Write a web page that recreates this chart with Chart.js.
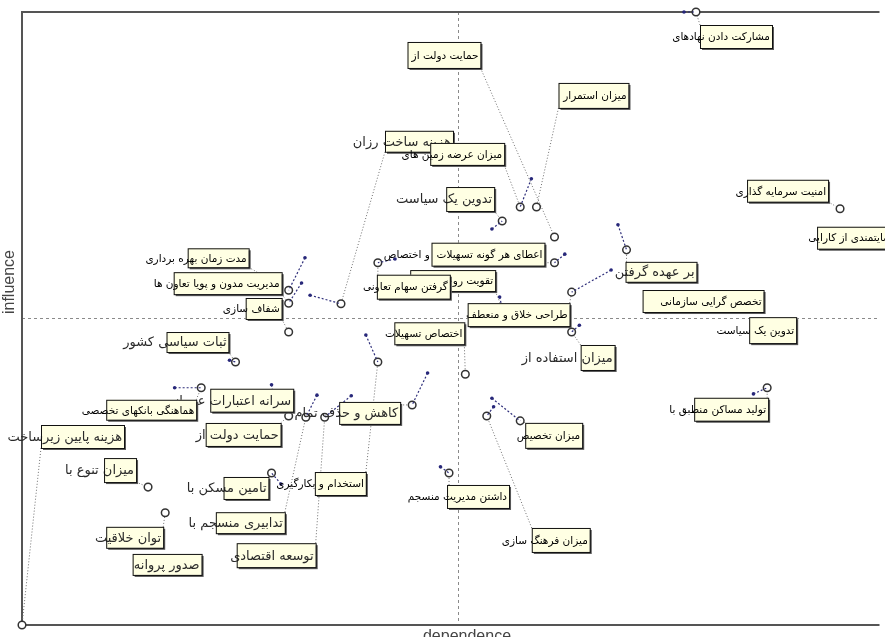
<!DOCTYPE html>
<html>
<head>
<meta charset="utf-8">
<script src="https://cdn.jsdelivr.net/npm/chart.js@4.4.1/dist/chart.umd.min.js"></script>
<style>
  html, body { margin: 0; padding: 0; background: #fff; overflow: hidden; }
  canvas { display: block; }
</style>
</head>
<body>
<canvas id="micmac" width="885" height="637"></canvas>
<script>
// MICMAC-style influence / dependence map

const VARIABLES = [
  "مشارکت دادن نهادهای", "حمایت دولت از", "میزان استمرار", "هزینه ساخت رزان",
  "میزان عرضه زمین های", "تدوین یک سیاست", "اعطای هر گونه تسهیلات  و اختصاص", "تقویت روحیه تعاونی",
  "گرفتن سهام تعاونی", "طراحی خلاق و منعطف", "اختصاص تسهیلات", "میزان استفاده از",
  "بر عهده گرفتن", "تخصص گرایی سازمانی", "تدوین یک سیاست", "تولید مساکن منطبق با",
  "امنیت سرمایه گذاری", "رضایتمندی از کارایی", "میزان تخصیص", "میزان فرهنگ سازی",
  "داشتن مدیریت منسجم", "کاهش و حذف تمام", "استخدام و بکارگیری", "تدابیری منسجم با",
  "توسعه اقتصادی", "تامین مسکن با", "حمایت دولت از", "سرانه اعتبارات عمرانی",
  "ثبات سیاسی کشور", "هماهنگی بانکهای تخصصی", "هزینه پایین زیرساخت", "میزان تنوع با",
  "توان خلاقیت", "صدور پروانه", "مدت زمان بهره برداری", "مدیریت مدون و پویا تعاون ها",
  "شفاف سازی"
];

// current position
const DEPENDENCE = [
  78.6, 62.1, 60.0, 37.2, 58.1, 56.0, 62.1, 56.0, 41.5, 64.1, 51.7, 64.1,
  70.5, 85.2, 89.0, 86.9, 95.4, 101.7, 58.1, 54.2, 49.8, 45.5, 41.5, 33.1,
  35.3, 29.1, 31.1, 29.3, 24.9, 20.9, 0.0, 14.7, 16.7, 17.1, 31.1, 31.1, 31.1
];
const INFLUENCE = [
  100.0, 63.3, 68.2, 52.4, 68.2, 65.9, 59.1, 51.7, 59.1, 54.3, 40.9, 47.8,
  61.2, 52.2, 48.1, 38.7, 67.9, 60.4, 33.3, 34.1, 24.8, 35.9, 42.9, 33.9,
  33.9, 24.8, 34.1, 37.4, 42.9, 38.7, 0.0, 22.5, 18.3, 9.8, 54.6, 52.5, 47.8
];

// previous position (null = no displacement shown)
const PREV_DEPENDENCE = [
  77.2, null, null, 33.6, 59.4, 54.8, 63.3, 55.7, 43.5, 68.7, null, 65.0,
  69.5, null, null, 85.3, null, null, 54.8, 55.0, 48.8, 47.3, 40.1, 34.4,
  38.4, 30.2, null, 29.1, 24.2, 17.8, null, null, null, null, 33.0, 32.6, null
];
const PREV_INFLUENCE = [
  100.0, null, null, 53.8, 72.8, 64.6, 60.5, 53.5, 59.7, 57.9, null, 48.9,
  65.3, null, null, 37.7, null, null, 37.0, 35.6, 25.8, 41.1, 47.3, 37.5,
  37.4, 23.0, null, 39.2, 43.2, 38.7, null, null, null, null, 59.9, 55.8, null
];

const MEAN_DEPENDENCE = 50.8;
const MEAN_INFLUENCE = 50.1;

// label box layout: [dx, dy, width, height] in px from the point, and big font flag
const LABEL_LAYOUT = [
  [4, 13, 72, 23, 0], [-147, -195, 73, 26, 0], [22, -124, 70, 25, 0], [44, -173, 68, 21, 1],
  [-90, -64, 74, 22, 0], [-56, -34, 48, 24, 1], [-123, -20, 113, 23, 0], [-92, -38, 85, 21, 0],
  [-1, 12, 73, 24, 0], [-104, 11, 102, 23, 0], [-71, -52, 70, 22, 0], [9, 13, 34, 25, 1],
  [-1, 12, 71, 20, 1], [-110, -15, 121, 22, 0], [-36, -13, 47, 26, 0], [-73, 10, 74, 23, 0],
  [-93, -29, 81, 22, 0], [-77, -28, 82, 22, 0], [5, 2, 57, 25, 0], [45, 112, 58, 24, 0],
  [-2, 12, 62, 23, 0], [-73, -3, 61, 22, 1], [-63, 110, 51, 23, 0], [-90, 95, 69, 21, 1],
  [-88, 126, 79, 24, 1], [-48, 4, 45, 22, 1], [-83, 7, 75, 23, 1], [-63, -7, 83, 23, 1],
  [-69, -30, 62, 20, 1], [-95, 12, 90, 20, 0], [19, -200, 83, 23, 1], [-44, -29, 32, 24, 1],
  [-59, 14, 57, 21, 1], [-36, -11, 69, 21, 1], [-101, -42, 61, 19, 0], [-115, -31, 108, 22, 0],
  [-43, -34, 36, 21, 0]
];

const current = DEPENDENCE.map((x, i) => ({ x, y: INFLUENCE[i] }));
const previous = PREV_DEPENDENCE.map((x, i) => ({ x, y: PREV_INFLUENCE[i] })).filter((p) => p.x !== null);
const movement = [];
PREV_DEPENDENCE.forEach((x, i) => {
  if (x === null) return;
  movement.push({ x, y: PREV_INFLUENCE[i] }, current[i], { x: null, y: null });
});

function labelRect(chart, i) {
  const { x, y } = chart.scales;
  const px = x.getPixelForValue(DEPENDENCE[i]);
  const py = y.getPixelForValue(INFLUENCE[i]);
  const [dx, dy, w, h, big] = LABEL_LAYOUT[i];
  return { px, py, left: px + dx, top: py + dy, w, h, big };
}

const framePlugin = {
  id: "frame",
  beforeDatasetsDraw(chart) {
    const { ctx, chartArea: a, scales } = chart;
    ctx.save();
    // mean lines
    ctx.strokeStyle = "#8a8a8a";
    ctx.lineWidth = 1;
    ctx.setLineDash([3, 3]);
    const mx = Math.round(scales.x.getPixelForValue(MEAN_DEPENDENCE)) + 0.5;
    const my = Math.round(scales.y.getPixelForValue(MEAN_INFLUENCE)) + 0.5;
    ctx.beginPath();
    ctx.moveTo(mx, a.top); ctx.lineTo(mx, a.bottom);
    ctx.moveTo(a.left, my); ctx.lineTo(a.right, my);
    ctx.stroke();
    // frame
    ctx.setLineDash([]);
    ctx.strokeStyle = "#555";
    ctx.lineWidth = 2;
    ctx.beginPath();
    ctx.moveTo(a.right, a.top); ctx.lineTo(a.left, a.top);
    ctx.lineTo(a.left, a.bottom); ctx.lineTo(a.right, a.bottom);
    ctx.stroke();
    // leader lines
    ctx.strokeStyle = "#6e6e6e";
    ctx.lineWidth = 1;
    ctx.setLineDash([1, 2]);
    VARIABLES.forEach((_, i) => {
      const r = labelRect(chart, i);
      const ex = Math.min(Math.max(r.px, r.left), r.left + r.w);
      const ey = Math.min(Math.max(r.py, r.top), r.top + r.h);
      ctx.beginPath();
      ctx.moveTo(ex, ey);
      ctx.lineTo(r.px, r.py);
      ctx.stroke();
    });
    ctx.restore();
  },
  afterDatasetsDraw(chart) {
    const { ctx } = chart;
    ctx.save();
    VARIABLES.forEach((text, i) => {
      const r = labelRect(chart, i);
      ctx.fillStyle = "#5a5a5a";
      ctx.fillRect(r.left + 2, r.top + 2, r.w, r.h);
      ctx.fillStyle = "#ffffe3";
      ctx.fillRect(r.left, r.top, r.w, r.h);
      ctx.font = r.big ? '13px "DejaVu Sans"' : '10.5px "DejaVu Sans"';
      ctx.fillStyle = r.big ? "#2a2a2a" : "#000";
      ctx.textAlign = "right";
      ctx.textBaseline = "middle";
      ctx.fillText(text, r.left + r.w - 2, r.top + r.h / 2 + 1);
      ctx.strokeStyle = "#111";
      ctx.lineWidth = 1;
      ctx.strokeRect(r.left + 0.5, r.top + 0.5, r.w, r.h);
    });
    // axis titles
    ctx.fillStyle = "#444";
    ctx.font = '16px "Liberation Sans"';
    ctx.textAlign = "center";
    ctx.textBaseline = "middle";
    ctx.save();
    ctx.translate(10, 282);
    ctx.rotate(-Math.PI / 2);
    ctx.fillText("influence", 0, 0);
    ctx.restore();
    ctx.textBaseline = "top";
    ctx.fillText("dependence", 467, 629);
    ctx.restore();
  },
};

new Chart(document.getElementById("micmac"), {
  type: "scatter",
  data: {
    datasets: [
      {
        label: "movement",
        data: movement,
        showLine: true,
        spanGaps: false,
        borderColor: "#2e2e7a",
        borderWidth: 1.2,
        borderDash: [2, 2],
        pointRadius: 0,
        clip: false,
      },
      {
        label: "previous",
        data: previous,
        pointRadius: 1.8,
        pointBackgroundColor: "#26267a",
        pointBorderWidth: 0,
        clip: false,
      },
      {
        label: "current",
        data: current,
        pointRadius: 3.8,
        pointBackgroundColor: "#fff",
        pointBorderColor: "#333",
        pointBorderWidth: 1.5,
        clip: false,
      },
    ],
  },
  options: {
    responsive: false,
    animation: false,
    devicePixelRatio: 1,
    layout: { padding: { left: 22, top: 12, right: 0, bottom: 12 } },
    plugins: { legend: { display: false }, tooltip: { enabled: false } },
    scales: {
      x: { type: "linear", min: 0, max: 100, display: false },
      y: { type: "linear", min: 0, max: 100, display: false },
    },
  },
  plugins: [framePlugin],
});
</script>
</body>
</html>
